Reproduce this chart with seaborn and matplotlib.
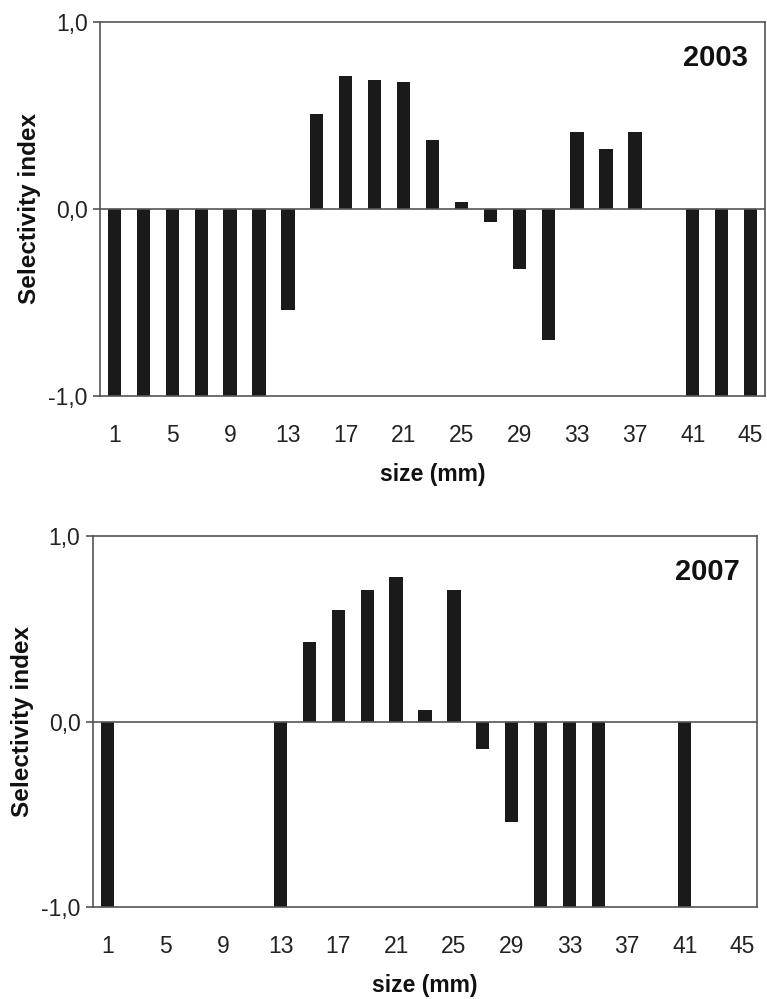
import matplotlib
matplotlib.use('Agg')
import matplotlib.pyplot as plt
import numpy as np
import pandas as pd
import seaborn as sns

# size classes (mm)
sizes = list(range(1, 46, 2))

# selectivity index per size class
index_2003 = [-1, -1, -1, -1, -1, -1, -0.54, 0.51, 0.71, 0.69, 0.68, 0.37,
              0.04, -0.07, -0.32, -0.70, 0.41, 0.32, 0.41, 0.0, -1, -1, -1]
index_2007 = [-1, 0, 0, 0, 0, 0, -1, 0.43, 0.60, 0.71, 0.78, 0.06,
              0.71, -0.15, -0.54, -1, -1, -1, 0, 0, -1, 0, 0]

years = ['2003', '2007']
y_ticks = [-1.0, 0.0, 1.0]
y_tick_labels = ['-1,0', '0,0', '1,0']

sns.set_style('white')
plt.rcParams['font.family'] = ['Liberation Sans', 'DejaVu Sans']

W, H = 767, 999
fig = plt.figure(figsize=(W / 100, H / 100), dpi=100)
# axes boxes in pixels: left, right, top, bottom
ax_top = fig.add_axes([100 / W, 1 - 396 / H, (765 - 100) / W, (396 - 22) / H])
ax_bot = fig.add_axes([93 / W, 1 - 907 / H, (757 - 93) / W, (907 - 536) / H])

year_pos = [(1 - 17 / 665, 0.905), (1 - 17 / 664, 0.903)]

for ax, values, year, pos in zip([ax_top, ax_bot], [index_2003, index_2007], years, year_pos):
    df = pd.DataFrame({'size': [str(s) for s in sizes], 'index': values})
    sns.barplot(data=df, x='size', y='index', color='#1a1a1a', saturation=1,
                width=0.46, linewidth=0, ax=ax)
    ax.axhline(0, color='#555555', lw=1.2, zorder=5)

    ax.set_ylim(-1, 1)
    ax.set_xlim(-0.5, len(sizes) - 0.5)
    ax.set_yticks(y_ticks)
    ax.set_yticklabels(y_tick_labels)
    ax.set_xticks(range(0, len(sizes), 2))
    ax.set_xticklabels([str(s) for s in sizes[::2]])
    ax.tick_params(axis='y', length=5, width=1.2, color='#555555', left=True,
                   labelsize=16.5, labelcolor='#222222', pad=4)
    ax.tick_params(axis='x', length=0, labelsize=16.5, labelcolor='#222222', pad=20)

    for spine in ax.spines.values():
        spine.set_color('#555555')
        spine.set_linewidth(1.2)

    ax.set_xlabel('size (mm)', fontsize=16.5, fontweight='bold', labelpad=12,
                  color='#111111')
    ax.set_ylabel('Selectivity index', fontsize=17.5, fontweight='bold', labelpad=5,
                  color='#111111')
    ax.text(pos[0], pos[1], year, transform=ax.transAxes, ha='right', va='center',
            fontsize=21, fontweight='bold', color='#111111')

fig.savefig('out.png', dpi=100)
